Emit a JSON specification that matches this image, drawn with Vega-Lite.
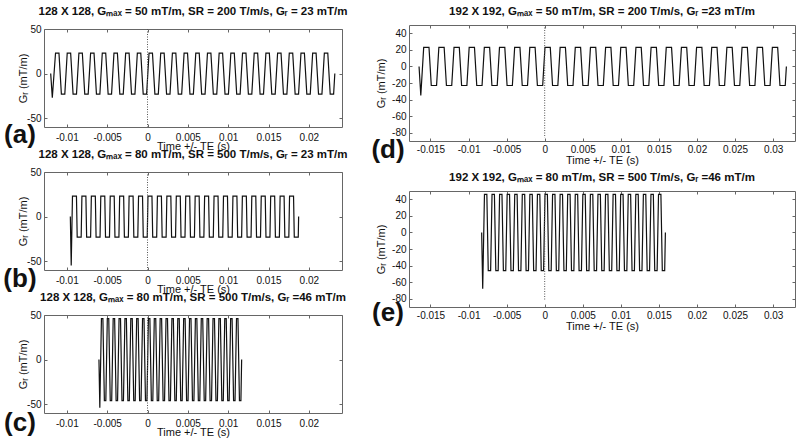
{
"$schema": "https://vega.github.io/schema/vega-lite/v6.json",
"padding": {"left": 2, "top": 5, "right": 0, "bottom": 0},
"background": "white",
"config": {
  "font": "Liberation Sans",
  "view": {"stroke": "#666", "strokeWidth": 1},
  "title": {"font": "Liberation Sans", "fontSize": 11.5, "fontWeight": "bold", "color": "#111", "offset": 7},
  "axis": {"labelFont": "Liberation Sans", "labelFontSize": 10, "labelColor": "#111", "titleFont": "Liberation Sans", "titleFontSize": 11, "titleFontWeight": "normal", "titleColor": "#111", "tickColor": "#666", "tickSize": -3, "labelPadding": 6, "domain": false, "grid": false, "labelExpr": "'' + datum.value"},
  "text": {"font": "Liberation Sans"}
},
"datasets": {
"a": [{"t":-0.012,"g":0},{"t":-0.0118,"g":-27},
{"t":-0.0114,"g":23},{"t":-0.010976,"g":23},{"t":-0.0106756,"g":-23},{"t":-0.0102512,"g":-23},
{"t":-0.0099512,"g":23},{"t":-0.0095268,"g":23},{"t":-0.0092268,"g":-23},{"t":-0.0088024,"g":-23},
{"t":-0.0085024,"g":23},{"t":-0.008078,"g":23},{"t":-0.007778,"g":-23},{"t":-0.0073536,"g":-23},
{"t":-0.0070536,"g":23},{"t":-0.0066292,"g":23},{"t":-0.0063292,"g":-23},{"t":-0.0059048,"g":-23},
{"t":-0.0056048,"g":23},{"t":-0.0051804,"g":23},{"t":-0.0048804,"g":-23},{"t":-0.004456,"g":-23},
{"t":-0.004156,"g":23},{"t":-0.0037316,"g":23},{"t":-0.0034316,"g":-23},{"t":-0.0030072,"g":-23},
{"t":-0.0027072,"g":23},{"t":-0.0022828,"g":23},{"t":-0.0019828,"g":-23},{"t":-0.0015584,"g":-23},
{"t":-0.0012584,"g":23},{"t":-0.000834,"g":23},{"t":-0.000534,"g":-23},{"t":-0.0001096,"g":-23},
{"t":0.0001904,"g":23},{"t":0.0006148,"g":23},{"t":0.0009148,"g":-23},{"t":0.0013392,"g":-23},
{"t":0.0016392,"g":23},{"t":0.0020636,"g":23},{"t":0.0023636,"g":-23},{"t":0.002788,"g":-23},
{"t":0.003088,"g":23},{"t":0.0035124,"g":23},{"t":0.0038124,"g":-23},{"t":0.0042368,"g":-23},
{"t":0.0045368,"g":23},{"t":0.0049612,"g":23},{"t":0.0052612,"g":-23},{"t":0.0056856,"g":-23},
{"t":0.0059856,"g":23},{"t":0.00641,"g":23},{"t":0.00671,"g":-23},{"t":0.0071344,"g":-23},
{"t":0.0074344,"g":23},{"t":0.0078588,"g":23},{"t":0.0081588,"g":-23},{"t":0.0085832,"g":-23},
{"t":0.0088832,"g":23},{"t":0.0093076,"g":23},{"t":0.0096076,"g":-23},{"t":0.010032,"g":-23},
{"t":0.010332,"g":23},{"t":0.0107564,"g":23},{"t":0.0110564,"g":-23},{"t":0.0114808,"g":-23},
{"t":0.0117808,"g":23},{"t":0.0122052,"g":23},{"t":0.0125052,"g":-23},{"t":0.0129296,"g":-23},
{"t":0.0132296,"g":23},{"t":0.013654,"g":23},{"t":0.013954,"g":-23},{"t":0.0143784,"g":-23},
{"t":0.0146784,"g":23},{"t":0.0151028,"g":23},{"t":0.0154028,"g":-23},{"t":0.0158272,"g":-23},
{"t":0.0161272,"g":23},{"t":0.0165516,"g":23},{"t":0.0168516,"g":-23},{"t":0.017276,"g":-23},
{"t":0.017576,"g":23},{"t":0.0180004,"g":23},{"t":0.0183004,"g":-23},{"t":0.0187248,"g":-23},
{"t":0.0190248,"g":23},{"t":0.0194492,"g":23},{"t":0.0197492,"g":-23},{"t":0.0201736,"g":-23},
{"t":0.0204736,"g":23},{"t":0.020898,"g":23},{"t":0.021198,"g":-23},{"t":0.0216224,"g":-23},
{"t":0.0219224,"g":23},{"t":0.0223468,"g":23},{"t":0.0226468,"g":-23},{"t":0.0230712,"g":-23},
{"t":0.0232212,"g":0}],
"b": [{"t":-0.009566,"g":0},{"t":-0.009456,"g":-55},
{"t":-0.0093,"g":23},{"t":-0.008807,"g":23},{"t":-0.008715,"g":-23},{"t":-0.008222,"g":-23},
{"t":-0.00813,"g":23},{"t":-0.007637,"g":23},{"t":-0.007545,"g":-23},{"t":-0.007052,"g":-23},
{"t":-0.00696,"g":23},{"t":-0.006467,"g":23},{"t":-0.006375,"g":-23},{"t":-0.005882,"g":-23},
{"t":-0.00579,"g":23},{"t":-0.005297,"g":23},{"t":-0.005205,"g":-23},{"t":-0.004712,"g":-23},
{"t":-0.00462,"g":23},{"t":-0.004127,"g":23},{"t":-0.004035,"g":-23},{"t":-0.003542,"g":-23},
{"t":-0.00345,"g":23},{"t":-0.002957,"g":23},{"t":-0.002865,"g":-23},{"t":-0.002372,"g":-23},
{"t":-0.00228,"g":23},{"t":-0.001787,"g":23},{"t":-0.001695,"g":-23},{"t":-0.001202,"g":-23},
{"t":-0.00111,"g":23},{"t":-0.000617,"g":23},{"t":-0.000525,"g":-23},{"t":-0.000032,"g":-23},
{"t":0.00006,"g":23},{"t":0.000553,"g":23},{"t":0.000645,"g":-23},{"t":0.001138,"g":-23},
{"t":0.00123,"g":23},{"t":0.001723,"g":23},{"t":0.001815,"g":-23},{"t":0.002308,"g":-23},
{"t":0.0024,"g":23},{"t":0.002893,"g":23},{"t":0.002985,"g":-23},{"t":0.003478,"g":-23},
{"t":0.00357,"g":23},{"t":0.004063,"g":23},{"t":0.004155,"g":-23},{"t":0.004648,"g":-23},
{"t":0.00474,"g":23},{"t":0.005233,"g":23},{"t":0.005325,"g":-23},{"t":0.005818,"g":-23},
{"t":0.00591,"g":23},{"t":0.006403,"g":23},{"t":0.006495,"g":-23},{"t":0.006988,"g":-23},
{"t":0.00708,"g":23},{"t":0.007573,"g":23},{"t":0.007665,"g":-23},{"t":0.008158,"g":-23},
{"t":0.00825,"g":23},{"t":0.008743,"g":23},{"t":0.008835,"g":-23},{"t":0.009328,"g":-23},
{"t":0.00942,"g":23},{"t":0.009913,"g":23},{"t":0.010005,"g":-23},{"t":0.010498,"g":-23},
{"t":0.01059,"g":23},{"t":0.011083,"g":23},{"t":0.011175,"g":-23},{"t":0.011668,"g":-23},
{"t":0.01176,"g":23},{"t":0.012253,"g":23},{"t":0.012345,"g":-23},{"t":0.012838,"g":-23},
{"t":0.01293,"g":23},{"t":0.013423,"g":23},{"t":0.013515,"g":-23},{"t":0.014008,"g":-23},
{"t":0.0141,"g":23},{"t":0.014593,"g":23},{"t":0.014685,"g":-23},{"t":0.015178,"g":-23},
{"t":0.01527,"g":23},{"t":0.015763,"g":23},{"t":0.015855,"g":-23},{"t":0.016348,"g":-23},
{"t":0.01644,"g":23},{"t":0.016933,"g":23},{"t":0.017025,"g":-23},{"t":0.017518,"g":-23},
{"t":0.01761,"g":23},{"t":0.018103,"g":23},{"t":0.018195,"g":-23},{"t":0.018688,"g":-23},
{"t":0.018734,"g":0}],
"c": [{"t":-0.006018,"g":0},{"t":-0.00591,"g":-54},
{"t":-0.00571,"g":46},{"t":-0.00553,"g":46},{"t":-0.005346,"g":-46},{"t":-0.005166,"g":-46},
{"t":-0.004982,"g":46},{"t":-0.004802,"g":46},{"t":-0.004618,"g":-46},{"t":-0.004438,"g":-46},
{"t":-0.004254,"g":46},{"t":-0.004074,"g":46},{"t":-0.00389,"g":-46},{"t":-0.00371,"g":-46},
{"t":-0.003526,"g":46},{"t":-0.003346,"g":46},{"t":-0.003162,"g":-46},{"t":-0.002982,"g":-46},
{"t":-0.002798,"g":46},{"t":-0.002618,"g":46},{"t":-0.002434,"g":-46},{"t":-0.002254,"g":-46},
{"t":-0.00207,"g":46},{"t":-0.00189,"g":46},{"t":-0.001706,"g":-46},{"t":-0.001526,"g":-46},
{"t":-0.001342,"g":46},{"t":-0.001162,"g":46},{"t":-0.000978,"g":-46},{"t":-0.000798,"g":-46},
{"t":-0.000614,"g":46},{"t":-0.000434,"g":46},{"t":-0.00025,"g":-46},{"t":-0.00007,"g":-46},
{"t":0.000114,"g":46},{"t":0.000294,"g":46},{"t":0.000478,"g":-46},{"t":0.000658,"g":-46},
{"t":0.000842,"g":46},{"t":0.001022,"g":46},{"t":0.001206,"g":-46},{"t":0.001386,"g":-46},
{"t":0.00157,"g":46},{"t":0.00175,"g":46},{"t":0.001934,"g":-46},{"t":0.002114,"g":-46},
{"t":0.002298,"g":46},{"t":0.002478,"g":46},{"t":0.002662,"g":-46},{"t":0.002842,"g":-46},
{"t":0.003026,"g":46},{"t":0.003206,"g":46},{"t":0.00339,"g":-46},{"t":0.00357,"g":-46},
{"t":0.003754,"g":46},{"t":0.003934,"g":46},{"t":0.004118,"g":-46},{"t":0.004298,"g":-46},
{"t":0.004482,"g":46},{"t":0.004662,"g":46},{"t":0.004846,"g":-46},{"t":0.005026,"g":-46},
{"t":0.00521,"g":46},{"t":0.00539,"g":46},{"t":0.005574,"g":-46},{"t":0.005754,"g":-46},
{"t":0.005938,"g":46},{"t":0.006118,"g":46},{"t":0.006302,"g":-46},{"t":0.006482,"g":-46},
{"t":0.006666,"g":46},{"t":0.006846,"g":46},{"t":0.00703,"g":-46},{"t":0.00721,"g":-46},
{"t":0.007394,"g":46},{"t":0.007574,"g":46},{"t":0.007758,"g":-46},{"t":0.007938,"g":-46},
{"t":0.008122,"g":46},{"t":0.008302,"g":46},{"t":0.008486,"g":-46},{"t":0.008666,"g":-46},
{"t":0.00885,"g":46},{"t":0.00903,"g":46},{"t":0.009214,"g":-46},{"t":0.009394,"g":-46},
{"t":0.009578,"g":46},{"t":0.009758,"g":46},{"t":0.009942,"g":-46},{"t":0.010122,"g":-46},
{"t":0.010306,"g":46},{"t":0.010486,"g":46},{"t":0.01067,"g":-46},{"t":0.01085,"g":-46},
{"t":0.011034,"g":46},{"t":0.011214,"g":46},{"t":0.011398,"g":-46},{"t":0.011578,"g":-46},
{"t":0.01167,"g":0}],
"d": [{"t":-0.0165,"g":0},{"t":-0.01627,"g":-35},
{"t":-0.01589,"g":23},{"t":-0.0151946,"g":23},{"t":-0.0148946,"g":-23},{"t":-0.0141992,"g":-23},
{"t":-0.0138992,"g":23},{"t":-0.0132038,"g":23},{"t":-0.0129038,"g":-23},{"t":-0.0122084,"g":-23},
{"t":-0.0119084,"g":23},{"t":-0.011213,"g":23},{"t":-0.010913,"g":-23},{"t":-0.0102176,"g":-23},
{"t":-0.0099176,"g":23},{"t":-0.0092222,"g":23},{"t":-0.0089222,"g":-23},{"t":-0.0082268,"g":-23},
{"t":-0.0079268,"g":23},{"t":-0.0072314,"g":23},{"t":-0.0069314,"g":-23},{"t":-0.006236,"g":-23},
{"t":-0.005936,"g":23},{"t":-0.0052406,"g":23},{"t":-0.0049406,"g":-23},{"t":-0.0042452,"g":-23},
{"t":-0.0039452,"g":23},{"t":-0.0032498,"g":23},{"t":-0.0029498,"g":-23},{"t":-0.0022544,"g":-23},
{"t":-0.0019544,"g":23},{"t":-0.001259,"g":23},{"t":-0.000959,"g":-23},{"t":-0.0002636,"g":-23},
{"t":0.0000364,"g":23},{"t":0.0007318,"g":23},{"t":0.0010318,"g":-23},{"t":0.0017272,"g":-23},
{"t":0.0020272,"g":23},{"t":0.0027226,"g":23},{"t":0.0030226,"g":-23},{"t":0.003718,"g":-23},
{"t":0.004018,"g":23},{"t":0.0047134,"g":23},{"t":0.0050134,"g":-23},{"t":0.0057088,"g":-23},
{"t":0.0060088,"g":23},{"t":0.0067042,"g":23},{"t":0.0070042,"g":-23},{"t":0.0076996,"g":-23},
{"t":0.0079996,"g":23},{"t":0.008695,"g":23},{"t":0.008995,"g":-23},{"t":0.0096904,"g":-23},
{"t":0.0099904,"g":23},{"t":0.0106858,"g":23},{"t":0.0109858,"g":-23},{"t":0.0116812,"g":-23},
{"t":0.0119812,"g":23},{"t":0.0126766,"g":23},{"t":0.0129766,"g":-23},{"t":0.013672,"g":-23},
{"t":0.013972,"g":23},{"t":0.0146674,"g":23},{"t":0.0149674,"g":-23},{"t":0.0156628,"g":-23},
{"t":0.0159628,"g":23},{"t":0.0166582,"g":23},{"t":0.0169582,"g":-23},{"t":0.0176536,"g":-23},
{"t":0.0179536,"g":23},{"t":0.018649,"g":23},{"t":0.018949,"g":-23},{"t":0.0196444,"g":-23},
{"t":0.0199444,"g":23},{"t":0.0206398,"g":23},{"t":0.0209398,"g":-23},{"t":0.0216352,"g":-23},
{"t":0.0219352,"g":23},{"t":0.0226306,"g":23},{"t":0.0229306,"g":-23},{"t":0.023626,"g":-23},
{"t":0.023926,"g":23},{"t":0.0246214,"g":23},{"t":0.0249214,"g":-23},{"t":0.0256168,"g":-23},
{"t":0.0259168,"g":23},{"t":0.0266122,"g":23},{"t":0.0269122,"g":-23},{"t":0.0276076,"g":-23},
{"t":0.0279076,"g":23},{"t":0.028603,"g":23},{"t":0.028903,"g":-23},{"t":0.0295984,"g":-23},
{"t":0.0298984,"g":23},{"t":0.0305938,"g":23},{"t":0.0308938,"g":-23},{"t":0.0315892,"g":-23},
{"t":0.0317392,"g":0}],
"e": [{"t":-0.008276,"g":0},{"t":-0.00814,"g":-68},
{"t":-0.00791,"g":46},{"t":-0.0075971,"g":46},{"t":-0.0074131,"g":-46},{"t":-0.0071002,"g":-46},
{"t":-0.0069162,"g":46},{"t":-0.0066033,"g":46},{"t":-0.0064193,"g":-46},{"t":-0.0061064,"g":-46},
{"t":-0.0059224,"g":46},{"t":-0.0056095,"g":46},{"t":-0.0054255,"g":-46},{"t":-0.0051126,"g":-46},
{"t":-0.0049286,"g":46},{"t":-0.0046157,"g":46},{"t":-0.0044317,"g":-46},{"t":-0.0041188,"g":-46},
{"t":-0.0039348,"g":46},{"t":-0.0036219,"g":46},{"t":-0.0034379,"g":-46},{"t":-0.003125,"g":-46},
{"t":-0.002941,"g":46},{"t":-0.0026281,"g":46},{"t":-0.0024441,"g":-46},{"t":-0.0021312,"g":-46},
{"t":-0.0019472,"g":46},{"t":-0.0016343,"g":46},{"t":-0.0014503,"g":-46},{"t":-0.0011374,"g":-46},
{"t":-0.0009534,"g":46},{"t":-0.0006405,"g":46},{"t":-0.0004565,"g":-46},{"t":-0.0001436,"g":-46},
{"t":0.0000404,"g":46},{"t":0.0003533,"g":46},{"t":0.0005373,"g":-46},{"t":0.0008502,"g":-46},
{"t":0.0010342,"g":46},{"t":0.0013471,"g":46},{"t":0.0015311,"g":-46},{"t":0.001844,"g":-46},
{"t":0.002028,"g":46},{"t":0.0023409,"g":46},{"t":0.0025249,"g":-46},{"t":0.0028378,"g":-46},
{"t":0.0030218,"g":46},{"t":0.0033347,"g":46},{"t":0.0035187,"g":-46},{"t":0.0038316,"g":-46},
{"t":0.0040156,"g":46},{"t":0.0043285,"g":46},{"t":0.0045125,"g":-46},{"t":0.0048254,"g":-46},
{"t":0.0050094,"g":46},{"t":0.0053223,"g":46},{"t":0.0055063,"g":-46},{"t":0.0058192,"g":-46},
{"t":0.0060032,"g":46},{"t":0.0063161,"g":46},{"t":0.0065001,"g":-46},{"t":0.006813,"g":-46},
{"t":0.006997,"g":46},{"t":0.0073099,"g":46},{"t":0.0074939,"g":-46},{"t":0.0078068,"g":-46},
{"t":0.0079908,"g":46},{"t":0.0083037,"g":46},{"t":0.0084877,"g":-46},{"t":0.0088006,"g":-46},
{"t":0.0089846,"g":46},{"t":0.0092975,"g":46},{"t":0.0094815,"g":-46},{"t":0.0097944,"g":-46},
{"t":0.0099784,"g":46},{"t":0.0102913,"g":46},{"t":0.0104753,"g":-46},{"t":0.0107882,"g":-46},
{"t":0.0109722,"g":46},{"t":0.0112851,"g":46},{"t":0.0114691,"g":-46},{"t":0.011782,"g":-46},
{"t":0.011966,"g":46},{"t":0.0122789,"g":46},{"t":0.0124629,"g":-46},{"t":0.0127758,"g":-46},
{"t":0.0129598,"g":46},{"t":0.0132727,"g":46},{"t":0.0134567,"g":-46},{"t":0.0137696,"g":-46},
{"t":0.0139536,"g":46},{"t":0.0142665,"g":46},{"t":0.0144505,"g":-46},{"t":0.0147634,"g":-46},
{"t":0.0149474,"g":46},{"t":0.0152603,"g":46},{"t":0.0154443,"g":-46},{"t":0.0157572,"g":-46},
{"t":0.0158492,"g":0}]
},
"bounds": "flush",
"spacing": 0,
"hconcat": [
 {"bounds": "flush", "spacing": 3, "vconcat": [
  {"data": {"values": []}, "mark": "point", "width": 298, "height": 1, "view": {"stroke": null}},
  {"bounds": "flush", "spacing": 45, "vconcat": [
   {"title": "128 X 128, Gₘₐₓ = 50 mT/m, SR = 200 T/m/s, Gᵣ = 23 mT/m", "width": 298, "height": 98,
    "resolve": {"axis": {"x": "independent", "y": "independent"}},
    "layer": [
     {"data": {"name": "a"}, "mark": {"type": "line", "color": "#111", "strokeWidth": 1.2},
      "encoding": {"x": {"field": "t", "type": "quantitative", "scale": {"domain": [-0.01283, 0.02411], "nice": false, "zero": false}, "axis": {"orient": "bottom", "values": [-0.01,-0.005,0,0.005,0.01,0.015,0.02], "labelPadding": 8, "title": "Time +/- TE (s)", "titleY": 22, "titleBaseline": "alphabetic"}},
                   "y": {"field": "g", "type": "quantitative", "scale": {"domain": [-60, 50], "nice": false, "zero": false}, "axis": {"orient": "left", "values": [-50,0,50], "title": "Gᵣ (mT/m)", "titleX": -21, "titleBaseline": "middle"}}}},
     {"data": {"values": [{"t": 0, "y1": 50, "y2": -60}]}, "mark": {"type": "rule", "color": "#555", "strokeDash": [1, 1.5], "strokeWidth": 1},
      "encoding": {"x": {"field": "t", "type": "quantitative", "scale": {"domain": [-0.01283, 0.02411], "nice": false, "zero": false}, "axis": {"orient": "top", "values": [-0.01,-0.005,0,0.005,0.01,0.015,0.02], "labels": false, "title": null}},
                   "y": {"field": "y1", "type": "quantitative", "scale": {"domain": [-60, 50], "nice": false, "zero": false}, "axis": {"orient": "right", "values": [-50,0,50], "labels": false, "title": null}},
                   "y2": {"field": "y2"}}},
     {"data": {"values": [{"t": -0.01581, "g": -78, "lab": "(a)"}]}, "mark": {"type": "text", "fontSize": 26, "fontWeight": "bold", "align": "center", "baseline": "alphabetic", "color": "#111"},
      "encoding": {"x": {"field": "t", "type": "quantitative", "axis": null, "scale": {"domain": [-0.01283, 0.02411], "nice": false, "zero": false}}, "y": {"field": "g", "type": "quantitative", "axis": null, "scale": {"domain": [-60, 50], "nice": false, "zero": false}}, "text": {"field": "lab"}}}
    ]},
   {"title": "128 X 128, Gₘₐₓ = 80 mT/m, SR = 500 T/m/s, Gᵣ = 23 mT/m", "width": 298, "height": 98,
    "resolve": {"axis": {"x": "independent", "y": "independent"}},
    "layer": [
     {"data": {"name": "b"}, "mark": {"type": "line", "color": "#111", "strokeWidth": 1.2},
      "encoding": {"x": {"field": "t", "type": "quantitative", "scale": {"domain": [-0.01283, 0.02411], "nice": false, "zero": false}, "axis": {"orient": "bottom", "values": [-0.01,-0.005,0,0.005,0.01,0.015,0.02], "labelPadding": 8, "title": "Time +/- TE (s)", "titleY": 22, "titleBaseline": "alphabetic"}},
                   "y": {"field": "g", "type": "quantitative", "scale": {"domain": [-60, 50], "nice": false, "zero": false}, "axis": {"orient": "left", "values": [-50,0,50], "title": "Gᵣ (mT/m)", "titleX": -21, "titleBaseline": "middle"}}}},
     {"data": {"values": [{"t": 0, "y1": 50, "y2": -60}]}, "mark": {"type": "rule", "color": "#555", "strokeDash": [1, 1.5], "strokeWidth": 1},
      "encoding": {"x": {"field": "t", "type": "quantitative", "scale": {"domain": [-0.01283, 0.02411], "nice": false, "zero": false}, "axis": {"orient": "top", "values": [-0.01,-0.005,0,0.005,0.01,0.015,0.02], "labels": false, "title": null}},
                   "y": {"field": "y1", "type": "quantitative", "scale": {"domain": [-60, 50], "nice": false, "zero": false}, "axis": {"orient": "right", "values": [-50,0,50], "labels": false, "title": null}},
                   "y2": {"field": "y2"}}},
     {"data": {"values": [{"t": -0.01581, "g": -79, "lab": "(b)"}]}, "mark": {"type": "text", "fontSize": 26, "fontWeight": "bold", "align": "center", "baseline": "alphabetic", "color": "#111"},
      "encoding": {"x": {"field": "t", "type": "quantitative", "axis": null, "scale": {"domain": [-0.01283, 0.02411], "nice": false, "zero": false}}, "y": {"field": "g", "type": "quantitative", "axis": null, "scale": {"domain": [-60, 50], "nice": false, "zero": false}}, "text": {"field": "lab"}}}
    ]},
   {"title": "128 X 128, Gₘₐₓ = 80 mT/m, SR = 500 T/m/s, Gᵣ =46 mT/m", "width": 298, "height": 98,
    "resolve": {"axis": {"x": "independent", "y": "independent"}},
    "layer": [
     {"data": {"name": "c"}, "mark": {"type": "line", "color": "#111", "strokeWidth": 1.2},
      "encoding": {"x": {"field": "t", "type": "quantitative", "scale": {"domain": [-0.01283, 0.02411], "nice": false, "zero": false}, "axis": {"orient": "bottom", "values": [-0.01,-0.005,0,0.005,0.01,0.015,0.02], "labelPadding": 8, "title": "Time +/- TE (s)", "titleY": 22, "titleBaseline": "alphabetic"}},
                   "y": {"field": "g", "type": "quantitative", "scale": {"domain": [-60, 50], "nice": false, "zero": false}, "axis": {"orient": "left", "values": [-50,0,50], "title": "Gᵣ (mT/m)", "titleX": -21, "titleBaseline": "middle"}}}},
     {"data": {"values": [{"t": 0, "y1": 50, "y2": -60}]}, "mark": {"type": "rule", "color": "#555", "strokeDash": [1, 1.5], "strokeWidth": 1},
      "encoding": {"x": {"field": "t", "type": "quantitative", "scale": {"domain": [-0.01283, 0.02411], "nice": false, "zero": false}, "axis": {"orient": "top", "values": [-0.01,-0.005,0,0.005,0.01,0.015,0.02], "labels": false, "title": null}},
                   "y": {"field": "y1", "type": "quantitative", "scale": {"domain": [-60, 50], "nice": false, "zero": false}, "axis": {"orient": "right", "values": [-50,0,50], "labels": false, "title": null}},
                   "y2": {"field": "y2"}}},
     {"data": {"values": [{"t": -0.01581, "g": -80, "lab": "(c)"}]}, "mark": {"type": "text", "fontSize": 26, "fontWeight": "bold", "align": "center", "baseline": "alphabetic", "color": "#111"},
      "encoding": {"x": {"field": "t", "type": "quantitative", "axis": null, "scale": {"domain": [-0.01283, 0.02411], "nice": false, "zero": false}}, "y": {"field": "g", "type": "quantitative", "axis": null, "scale": {"domain": [-60, 50], "nice": false, "zero": false}}, "text": {"field": "lab"}}}
    ]}
  ]}
 ]},
 {"data": {"values": []}, "mark": "point", "width": 365, "height": 1, "view": {"stroke": null}},
 {"bounds": "flush", "spacing": 50, "vconcat": [
   {"title": "192 X 192, Gₘₐₓ = 50 mT/m, SR = 200 T/m/s, Gᵣ =23 mT/m", "width": 386, "height": 116,
    "resolve": {"axis": {"x": "independent", "y": "independent"}},
    "layer": [
     {"data": {"name": "d"}, "mark": {"type": "line", "color": "#111", "strokeWidth": 1.2},
      "encoding": {"x": {"field": "t", "type": "quantitative", "scale": {"domain": [-0.01782, 0.03287], "nice": false, "zero": false}, "axis": {"orient": "bottom", "values": [-0.015,-0.01,-0.005,0,0.005,0.01,0.015,0.02,0.025,0.03], "title": "Time +/- TE (s)", "titleY": 22, "titleBaseline": "alphabetic"}},
                   "y": {"field": "g", "type": "quantitative", "scale": {"domain": [-90, 50], "nice": false, "zero": false}, "axis": {"orient": "left", "values": [-80,-60,-40,-20,0,20,40], "title": "Gᵣ (mT/m)", "titleX": -28, "titleBaseline": "middle"}}}},
     {"data": {"values": [{"t": 0, "y1": 50, "y2": -86}]}, "mark": {"type": "rule", "color": "#555", "strokeDash": [1, 1.5], "strokeWidth": 1},
      "encoding": {"x": {"field": "t", "type": "quantitative", "scale": {"domain": [-0.01782, 0.03287], "nice": false, "zero": false}, "axis": {"orient": "top", "values": [-0.015,-0.01,-0.005,0,0.005,0.01,0.015,0.02,0.025,0.03], "labels": false, "title": null}},
                   "y": {"field": "y1", "type": "quantitative", "scale": {"domain": [-90, 50], "nice": false, "zero": false}, "axis": {"orient": "right", "values": [-80,-60,-40,-20,0,20,40], "labels": false, "title": null}},
                   "y2": {"field": "y2"}}},
     {"data": {"values": [{"t": -0.02058, "g": -110, "lab": "(d)"}]}, "mark": {"type": "text", "fontSize": 26, "fontWeight": "bold", "align": "center", "baseline": "alphabetic", "color": "#111"},
      "encoding": {"x": {"field": "t", "type": "quantitative", "axis": null, "scale": {"domain": [-0.01782, 0.03287], "nice": false, "zero": false}}, "y": {"field": "g", "type": "quantitative", "axis": null, "scale": {"domain": [-90, 50], "nice": false, "zero": false}}, "text": {"field": "lab"}}}
    ]},
   {"title": "192 X 192, Gₘₐₓ = 80 mT/m, SR = 500 T/m/s, Gᵣ =46 mT/m", "width": 386, "height": 116,
    "resolve": {"axis": {"x": "independent", "y": "independent"}},
    "layer": [
     {"data": {"name": "e"}, "mark": {"type": "line", "color": "#111", "strokeWidth": 1.2},
      "encoding": {"x": {"field": "t", "type": "quantitative", "scale": {"domain": [-0.01782, 0.03287], "nice": false, "zero": false}, "axis": {"orient": "bottom", "values": [-0.015,-0.01,-0.005,0,0.005,0.01,0.015,0.02,0.025,0.03], "title": "Time +/- TE (s)", "titleY": 22, "titleBaseline": "alphabetic"}},
                   "y": {"field": "g", "type": "quantitative", "scale": {"domain": [-90, 50], "nice": false, "zero": false}, "axis": {"orient": "left", "values": [-80,-60,-40,-20,0,20,40], "title": "Gᵣ (mT/m)", "titleX": -28, "titleBaseline": "middle"}}}},
     {"data": {"values": [{"t": 0, "y1": 50, "y2": -81}]}, "mark": {"type": "rule", "color": "#555", "strokeDash": [1, 1.5], "strokeWidth": 1},
      "encoding": {"x": {"field": "t", "type": "quantitative", "scale": {"domain": [-0.01782, 0.03287], "nice": false, "zero": false}, "axis": {"orient": "top", "values": [-0.015,-0.01,-0.005,0,0.005,0.01,0.015,0.02,0.025,0.03], "labels": false, "title": null}},
                   "y": {"field": "y1", "type": "quantitative", "scale": {"domain": [-90, 50], "nice": false, "zero": false}, "axis": {"orient": "right", "values": [-80,-60,-40,-20,0,20,40], "labels": false, "title": null}},
                   "y2": {"field": "y2"}}},
     {"data": {"values": [{"t": -0.02058, "g": -107, "lab": "(e)"}]}, "mark": {"type": "text", "fontSize": 26, "fontWeight": "bold", "align": "center", "baseline": "alphabetic", "color": "#111"},
      "encoding": {"x": {"field": "t", "type": "quantitative", "axis": null, "scale": {"domain": [-0.01782, 0.03287], "nice": false, "zero": false}}, "y": {"field": "g", "type": "quantitative", "axis": null, "scale": {"domain": [-90, 50], "nice": false, "zero": false}}, "text": {"field": "lab"}}}
    ]}
 ]}
]
}
